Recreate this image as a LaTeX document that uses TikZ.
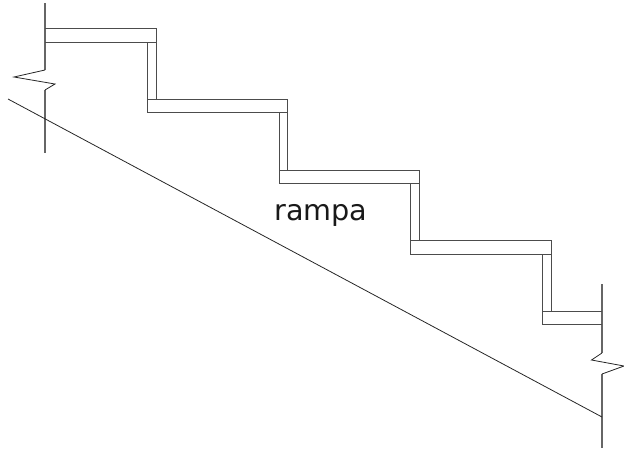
\documentclass[tikz,border=0pt]{standalone}
\usepackage{fontspec}
\setmainfont{DejaVu Sans}

\begin{document}
\begin{tikzpicture}[x=1pt,y=-1pt]
      % Line styles
      \tikzset{
        wallline/.style={draw=black!60, line width=1.1pt, line join=miter},
        stepline/.style={draw=black!70, line width=0.9pt, line join=miter},
        rampline/.style={draw=black!85, line width=0.8pt},
      }
      \useasboundingbox (0,0) rectangle (624,448);
      % Walls
      \draw[wallline] (45,3) -- (45,70);
      \draw[wallline] (45,90) -- (45,153);
      \draw[wallline] (602,284) -- (602,353);
      \draw[wallline] (602,374) -- (602,448);
      % Break marks
      \draw[rampline] (45,70) -- (14,77) -- (55,84) -- (45,90);
      \draw[rampline] (602,353) -- (591.5,360) -- (624,366) -- (602,374);
      % Treads
      \draw[stepline] (45,28.5) -- (156,28.5) -- (156,99);
      \draw[stepline] (45,42) -- (156,42);
      \draw[stepline] (147,42) -- (147,112) -- (287,112);
      \draw[stepline] (147,99) -- (287,99) -- (287,170);
      \draw[stepline] (279,112) -- (279,183) -- (419,183);
      \draw[stepline] (279,170) -- (419,170) -- (419,240);
      \draw[stepline] (410,183) -- (410,254) -- (551,254);
      \draw[stepline] (410,240) -- (551,240) -- (551,311);
      \draw[stepline] (542,254) -- (542,324) -- (602,324);
      \draw[stepline] (542,311) -- (602,311);
      % Slab
      \draw[rampline] (8,99) -- (602,417);
      % Label
      \node (rampa) [anchor=base, inner sep=0pt, text=black!90, font=\fontsize{28.7}{30}\selectfont] at (321,220) {rampa};
    \end{tikzpicture}
\end{document}
